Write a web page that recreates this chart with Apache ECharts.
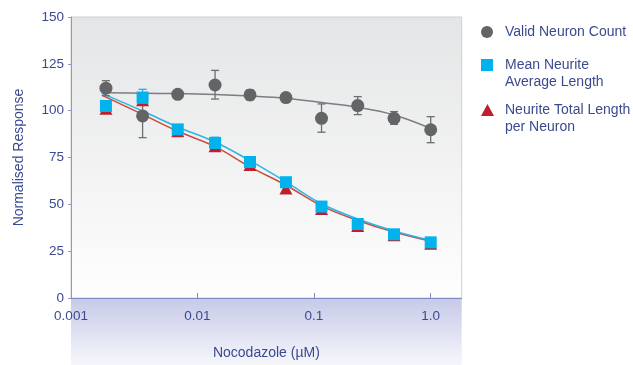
<!DOCTYPE html>
<html>
<head>
<meta charset="utf-8">
<script src="https://cdn.jsdelivr.net/npm/echarts@6/dist/echarts.min.js"></script>
<style>
html,body{margin:0;padding:0;background:#fff;}
#chart{width:633px;height:365px;}
</style>
</head>
<body>
<div id="chart"></div>
<script>
// ---- data ----
const conc = [0.00165, 0.0034, 0.0068, 0.0142, 0.0283, 0.0575, 0.116, 0.237, 0.485, 1.0];
const neuronCount = [112, 97.2, 108.7, 113.7, 108.4, 107, 95.9, 102.7, 95.9, 89.8];
const neuronLow   = [108, 85.6, 107, 106.2, 105.8, 105.3, 88.5, 97.9, 92.7, 82.9];
const neuronHigh  = [116, 108, 110.5, 121.5, 111, 108.8, 103.6, 107.5, 99.5, 96.8];
const meanLength  = [102.5, 107, 90, 82.8, 72.6, 61.8, 48.8, 39.5, 34, 29.7];
const meanLow     = [100.5, 104, 89, 80, 71, 60.8, 47.8, 38.5, 33, 28.7];
const meanHigh    = [104.5, 111.4, 91, 85.8, 74.2, 62.8, 49.8, 40.5, 35, 30.7];
const totalLength = [101, 105.5, 89, 81, 71, 58.4, 47.5, 38.4, 33.5, 29];
const totalLow    = [98.6, 103.4, 88, 78.5, 70, 57.5, 46.6, 37.6, 32.6, 28.2];
const totalHigh   = [103.4, 107.6, 90, 83.5, 72, 59.3, 48.4, 39.2, 34.4, 29.8];
// fitted curves as drawn in the reference
const fitConc     = [0.00152, 0.0034, 0.0068, 0.0142, 0.0283, 0.0575, 0.116, 0.237, 0.485, 1.0];
const neuronFit   = [109.5, 109.3, 109.1, 108.6, 107.8, 106.6, 104.3, 101.8, 97.7, 90.5];
const meanFit     = [109.2, 99.8, 91.3, 83.3, 73.3, 62, 50.3, 42.2, 35.8, 30.8];
const totalFit    = [108.3, 98, 89, 80.8, 70, 60.2, 49.2, 41.4, 35.2, 30.3];
const xTickLabels = ['0.001', '0.01', '0.1', '1.0'];
const yTicks = [0, 25, 50, 75, 100, 125, 150];
const seriesNames = ['Valid Neuron Count', 'Mean Neurite Average Length', 'Neurite Total Length per Neuron'];
const legendLabels = ['Valid Neuron Count', '\nMean Neurite\nAverage Length', '\nNeurite Total Length\nper Neuron'];

// ---- styling ----
const navy = '#3b4a8f';
const grey = '#636466';
const blue = '#00b3ec';
const red = '#be1e2d';
const font = 'Liberation Sans, Arial, Helvetica, sans-serif';
const lg10 = Math.log10;

const pts = (xs, ys) => xs.map((c, i) => [lg10(c), ys[i]]);
const errs = (lo, hi) => conc.map((c, i) => [lg10(c), lo[i], hi[i]]);

function errRender(color) {
  return function (params, api) {
    const x = api.value(0);
    const p1 = api.coord([x, api.value(1)]);
    const p2 = api.coord([x, api.value(2)]);
    const w = 4;
    const st = { stroke: color, lineWidth: 1.3 };
    return {
      type: 'group',
      children: [
        { type: 'line', shape: { x1: p1[0], y1: p1[1], x2: p2[0], y2: p2[1] }, style: st },
        { type: 'line', shape: { x1: p1[0] - w, y1: p1[1], x2: p1[0] + w, y2: p1[1] }, style: st },
        { type: 'line', shape: { x1: p2[0] - w, y1: p2[1], x2: p2[0] + w, y2: p2[1] }, style: st }
      ]
    };
  };
}

const chart = echarts.init(document.getElementById('chart'), null, { renderer: 'canvas' });
const xMin = -3.082, xMax = 0.2656;

const legendBase = {
  orient: 'vertical', left: 481, padding: 0, itemWidth: 12, itemHeight: 12,
  selectedMode: false
};
const legendText = { color: navy, fontSize: 14, fontFamily: font, lineHeight: 17, padding: [0, 0, 0, 7] };

chart.setOption({
  animation: false,
  backgroundColor: '#ffffff',
  textStyle: { fontFamily: font },
  grid: {
    left: 71, right: 171.3, top: 17, bottom: 66.5,
    show: true, borderColor: '#cfcfd1', borderWidth: 1,
    backgroundColor: new echarts.graphic.LinearGradient(0, 0, 0, 1, [
      { offset: 0, color: '#e4e5e6' }, { offset: 1, color: '#fefefe' }
    ])
  },
  graphic: [{
    type: 'rect', z: -10, silent: true,
    shape: { x: 71, y: 298.5, width: 390.7, height: 66.5 },
    style: {
      fill: new echarts.graphic.LinearGradient(0, 0, 0, 1, [
        { offset: 0, color: '#c6cae7' }, { offset: 1, color: '#f6f7fc' }
      ])
    }
  }],
  legend: [
    Object.assign({}, legendBase, {
      top: 23.5,
      data: [{ name: seriesNames[0], icon: 'circle' }],
      formatter: () => legendLabels[0],
      textStyle: legendText
    }),
    Object.assign({}, legendBase, {
      top: 39.5,
      data: [{ name: seriesNames[1], icon: 'rect' }],
      formatter: () => legendLabels[1],
      textStyle: legendText
    }),
    Object.assign({}, legendBase, {
      top: 84.5, itemWidth: 13, itemHeight: 12,
      data: [{ name: seriesNames[2], icon: 'triangle' }],
      formatter: () => legendLabels[2],
      textStyle: Object.assign({}, legendText, { padding: [0, 0, 0, 6] })
    })
  ],
  xAxis: {
    type: 'value', min: xMin, max: xMax,
    name: 'Nocodazole (µM)', nameLocation: 'middle', nameGap: 48,
    nameTextStyle: { color: navy, fontSize: 14, fontFamily: font },
    axisLine: { onZero: false, lineStyle: { color: '#7f89c2', width: 1 } },
    axisTick: { inside: true, length: 5, lineStyle: { color: '#7f89c2' }, customValues: [-2, -1, 0] },
    axisLabel: {
      color: navy, fontSize: 13.5, fontFamily: font, margin: 11,
      customValues: [xMin, -2, -1, 0],
      formatter: v => xTickLabels[Math.round(v) + 3]
    },
    splitLine: { show: false }
  },
  yAxis: {
    type: 'value', min: yTicks[0], max: yTicks[yTicks.length - 1], interval: 25,
    name: 'Normalised Response', nameLocation: 'middle', nameGap: 45, nameRotate: 90,
    nameTextStyle: { color: navy, fontSize: 14, fontFamily: font },
    axisLine: { show: true, onZero: false, lineStyle: { color: '#8e98cc', width: 1 } },
    axisTick: { show: true, length: 3, lineStyle: { color: '#8e98cc' } },
    axisLabel: { color: navy, fontSize: 13.5, fontFamily: font, margin: 7 },
    splitLine: { show: false }
  },
  series: [
    { type: 'line', name: 'fit0', data: pts(conc, neuronFit), smooth: 0.4, symbol: 'none',
      lineStyle: { color: '#7c7d80', width: 1.5 }, z: 2 },
    { type: 'line', name: 'fit2', data: pts(fitConc, totalFit), smooth: 0.4, symbol: 'none',
      lineStyle: { color: '#cc4b3b', width: 1.5 }, z: 2 },
    { type: 'line', name: 'fit1', data: pts(fitConc, meanFit), smooth: 0.4, symbol: 'none',
      lineStyle: { color: '#2bb5e6', width: 1.5 }, z: 2 },
    { type: 'custom', name: 'err0', data: errs(neuronLow, neuronHigh), renderItem: errRender('#6d6e70'), z: 3 },
    { type: 'scatter', name: seriesNames[0], data: pts(conc, neuronCount), symbol: 'circle', symbolSize: 13,
      itemStyle: { color: grey, opacity: 1 }, z: 4 },
    { type: 'custom', name: 'err2', data: errs(totalLow, totalHigh), renderItem: errRender(red), z: 5 },
    { type: 'scatter', name: seriesNames[2], data: pts(conc, totalLength), symbol: 'triangle', symbolSize: [13, 12],
      itemStyle: { color: red, opacity: 1 }, z: 6 },
    { type: 'custom', name: 'err1', data: errs(meanLow, meanHigh), renderItem: errRender('#1fb0e6'), z: 7 },
    { type: 'scatter', name: seriesNames[1], data: pts(conc, meanLength), symbol: 'rect', symbolSize: 12,
      itemStyle: { color: blue, opacity: 1 }, z: 8 }
  ]
});
</script>
</body>
</html>
